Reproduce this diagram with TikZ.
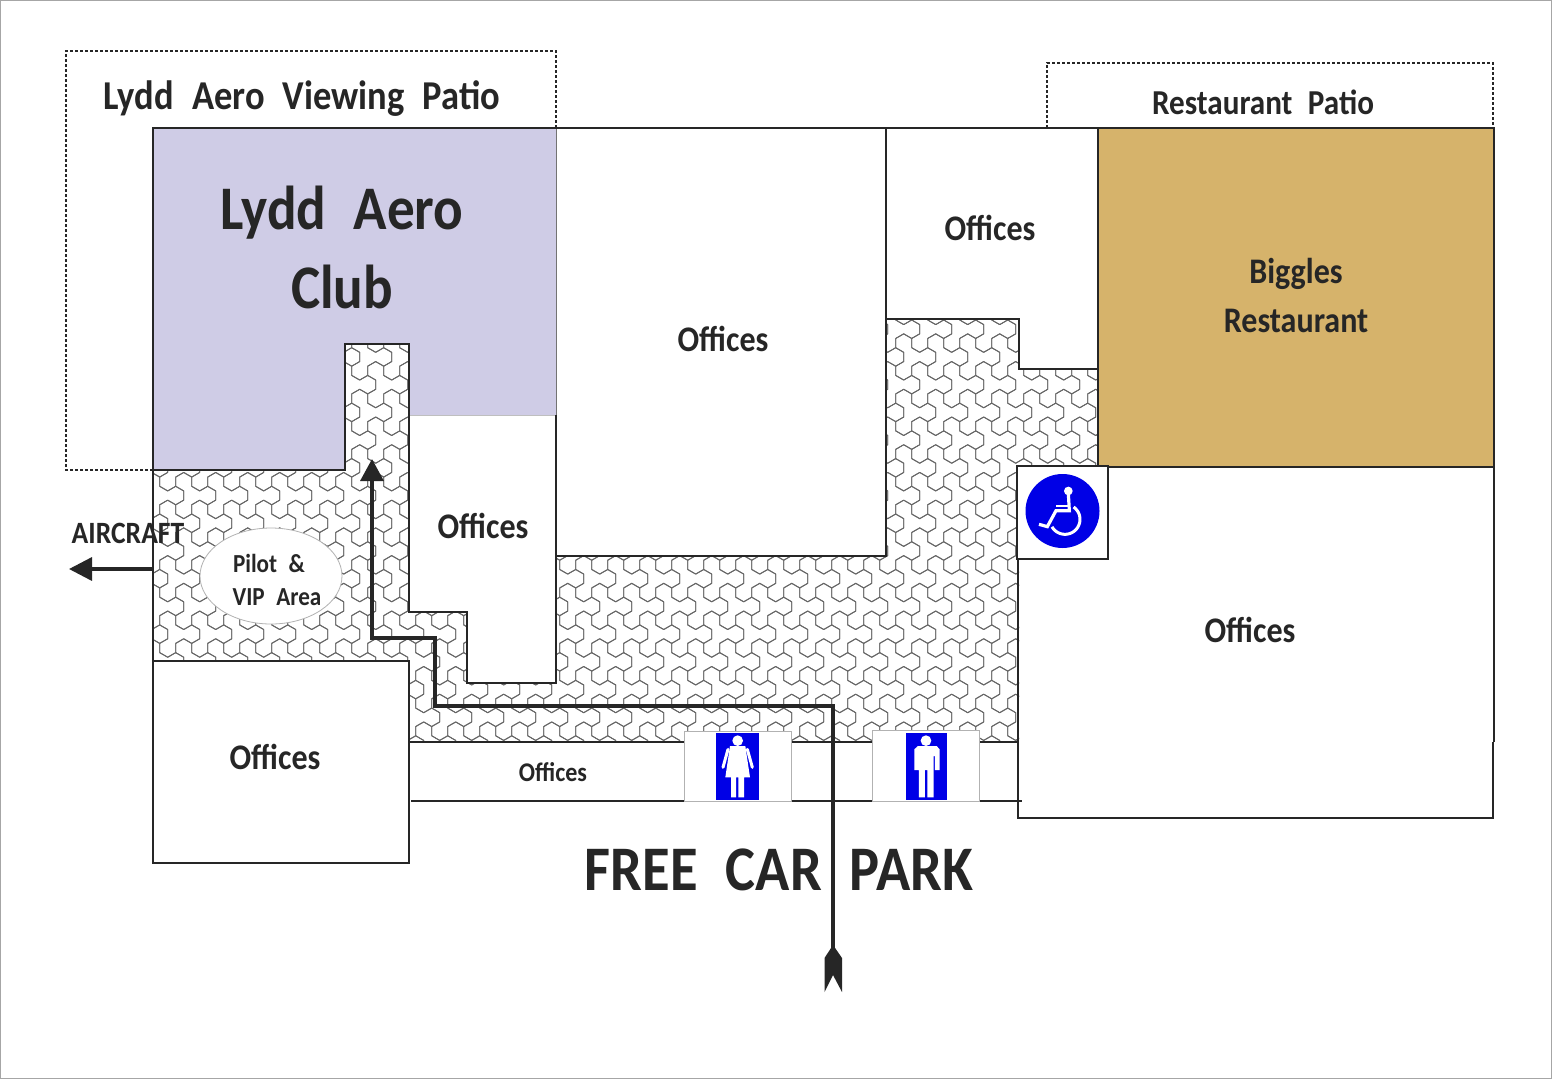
\documentclass[tikz,border=0pt]{standalone}
\usepackage{fontspec}
\setmainfont[WordSpace=2.2,FakeStretch=0.89]{Carlito}
\usetikzlibrary{arrows.meta,calc,shapes.geometric}
\definecolor{ink}{HTML}{262626}
\definecolor{club}{HTML}{CFCCE6}
\definecolor{gold}{HTML}{D6B36B}
\definecolor{signblue}{HTML}{0000E6}
\tikzset{
 wall/.style={draw=ink,line width=1.8pt,line join=miter},
 patio/.style={draw=ink,line width=1.5pt,dash pattern=on 3pt off 2pt},
 route/.style={draw=ink,line width=3.4pt,line join=miter},
 lbl/.style={text=ink,font=\bfseries\fontsize{#1}{#1}\selectfont,inner sep=0pt,align=center},
 sign/.style={draw=black!30,line width=1pt,fill=white},
 tile/.style={draw=black!60,line width=0.9pt,line join=round},
}
\begin{document}
\begin{tikzpicture}[x=1pt,y=-1pt]
\useasboundingbox (0,0) rectangle (1552,1079);
\fill[white] (0,0) rectangle (1552,1079);
\draw[black!35,line width=1.2pt] (0.6,0.6) rectangle (1551.4,1078.4);
% dashed patios
\draw[patio] (153,470) -- (66,470) -- (66,51) -- (556,51) -- (556,128);
\draw[patio] (1047,128) -- (1047,63) -- (1493,63) -- (1493,128);
% paved floor
\begin{scope}
\clip (153,470) -- (345,470) -- (345,344) -- (409,344) -- (409,612) -- (467,612) -- (467,683) -- (556,683) -- (556,556) -- (886,556) -- (886,319) -- (1019,319) -- (1019,369) -- (1098,369) -- (1098,466) -- (1019,466) -- (1019,742) -- (409,742) -- (409,661) -- (153,661) -- cycle;
\foreach \j in {0,...,18}{
 \foreach \i in {0,...,31}{
  \pgfmathsetmacro{\tx}{127.7+32*\i+16*mod(\j+1,2)}
  \pgfmathsetmacro{\ty}{301.5+27.72*\j}
  \draw[tile,shift={(\tx,\ty)}] (-8,-4.62)--(-8,4.62)--(-16,9.24)--(-16,18.48)--(-8,23.1)--(0,18.48)--(0,9.24)--(8,4.62)--(16,9.24)--(24,4.62)--(24,-4.62)--(16,-9.24)--(8,-4.62)--(0,-9.24)--(0,-18.48)--(-8,-23.1)--(-16,-18.48)--(-16,-9.24)--cycle;
 }}
\end{scope}
% rooms
\fill[club] (153,128) -- (556,128) -- (556,415) -- (409,415) -- (409,344) -- (345,344) -- (345,470) -- (153,470) -- cycle;
\draw[wall] (556,128) -- (153,128) -- (153,661);
\draw[wall] (153,470) -- (345,470) -- (345,344) -- (409,344) -- (409,415);
\draw[black!55,line width=1pt] (556,128) -- (556,415);
\draw[black!25,line width=.8pt] (409,415) -- (556,415);
\draw[wall] (556,128) -- (886,128) -- (886,556) -- (556,556) -- (556,415);
\draw[wall] (886,319) -- (1019,319) -- (1019,369) -- (1098,369);
\draw[wall] (886,128) -- (1098,128);
\filldraw[wall,fill=gold] (1098,128) rectangle (1494,467);
\draw[wall] (1494,467) -- (1494,742) (1493,742) -- (1493,818) -- (1018,818) -- (1018,467) -- (1098,467);
\draw[wall] (409,415) -- (409,612) -- (467,612) -- (467,683) -- (556,683) -- (556,556);
\draw[wall] (153,661) rectangle (409,863);
\draw[wall] (409,742) -- (1019,742);
\draw[wall,line width=1.5pt] (411,801) -- (1022,801);
% wheelchair sign
\filldraw[wall,line width=2.6pt,fill=white] (1017,466) rectangle (1108,559);
\node[circle,fill=signblue,minimum size=74pt,inner sep=0pt] (wc) at (1062.5,511) {};
\begin{scope}[shift={(1000,300)},x=.3333pt,y=-.3333pt]
 \fill[white] (205,573) circle[radius=13pt/3];
 \draw[white,line width=3.2pt,line join=miter] (205,580) -- (208,632) -- (168,632) -- (142,680) -- (117,673);
 \draw[white,line width=2.6pt] (168,618) -- (208,618);
 \draw[white,line width=3pt] plot[domain=-55:150,samples=40,smooth] ({195+45*cos(\x)},{658+45*sin(\x)});
\end{scope}
% toilet signs
\filldraw[sign] (684,731) rectangle (791,801);
\filldraw[sign] (872,730) rectangle (979,801);
\begin{scope}[shift={(670,690)},x=.3333pt,y=-.3333pt]
 \fill[signblue] (138,129) rectangle (266,329);
 \fill[signblue] (707,129) rectangle (832,331);
 \fill[white] (203,152) circle[radius=16pt/3];
 \fill[white] (180,168) -- (226,168) -- (240,262) -- (222,262) -- (222,322) -- (205,322) -- (205,262) -- (198,262) -- (198,322) -- (183,322) -- (183,262) -- (166,262) -- cycle;
 \draw[white,line width=3pt,line cap=round] (174,178) -- (159,232) (232,178) -- (247,232);
 \fill[white] (768,152) circle[radius=16pt/3];
 \fill[white] (744,168) -- (800,168) -- (809,178) -- (809,240) -- (795,240) -- (795,198) -- (791,198) -- (791,322) -- (772,322) -- (772,240) -- (765,240) -- (765,322) -- (747,322) -- (747,198) -- (746,198) -- (746,240) -- (733,240) -- (733,178) -- cycle;
\end{scope}
% route
\coordinate (rS) at (833,950);
\coordinate (r1) at (833,706);
\coordinate (r2) at (435,706);
\coordinate (r3) at (435,638);
\coordinate (r4) at (372,638);
\coordinate (rE) at (372,459);
\draw[route,-{Triangle[length=22pt,width=23pt]}] (rS) -- (r1) -- (r2) -- (r3) -- (r4) -- (rE);
\fill[ink] (833,945) -- (842,958) -- (842,992) -- (833,975) -- (824.5,992) -- (824.5,958) -- cycle;
% aircraft arrow
\coordinate (aS) at (153,569);
\coordinate (aE) at (69,569);
\draw[route,-{Triangle[length=23pt,width=23pt]}] (aS) -- (aE);
% pilot area
\node[ellipse,draw=black!30,line width=.8pt,fill=white,minimum width=142pt,minimum height=96pt,inner sep=0pt] (vip) at (271,576) {};
% labels
\node[lbl=41] (t1) at (302,99) {Lydd Aero Viewing Patio};
\node[lbl=35] (t2) at (1263,102) {Restaurant Patio};
\node[lbl=62] (t3) at (342,213) {Lydd Aero};
\node[lbl=62] (t4) at (342,287) {Club};
\node[lbl=36] (t5) at (723,339) {Offices};
\node[lbl=36] (t6) at (990,228) {Offices};
\node[lbl=36] (t7) at (483,526) {Offices};
\node[lbl=36] (t8) at (1250,630) {Offices};
\node[lbl=36] (t9) at (275,757) {Offices};
\node[lbl=27] (t10) at (553,772) {Offices};
\node[lbl=36] (t11) at (1296,274) {Biggles};
\node[lbl=36] (t12) at (1296,321) {Restaurant};
\node[lbl=26] (t13) at (269,563) {Pilot \&};
\node[lbl=26] (t14) at (277,597) {VIP Area};
\node[lbl=31] (t15) at (128,533) {AIRCRAFT};
\node[lbl=63.5] (t16) at (779,870) {FREE CAR PARK};
\end{tikzpicture}
\end{document}
